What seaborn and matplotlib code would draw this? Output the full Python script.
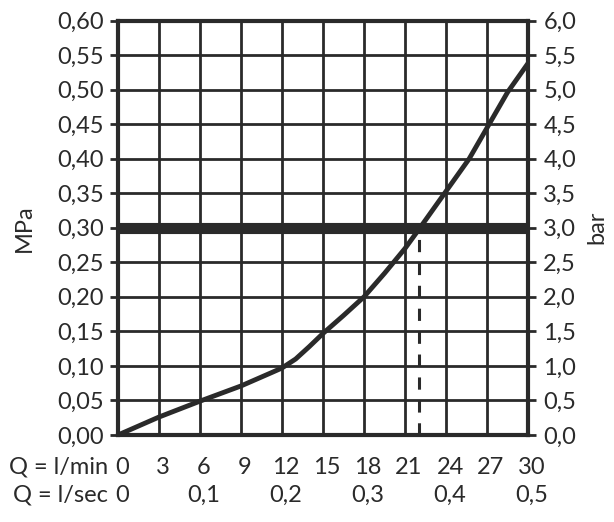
import matplotlib
matplotlib.use("Agg")
import matplotlib.pyplot as plt
import matplotlib.transforms as mtransforms
import seaborn as sns
import pandas as pd

# data
flow_lmin = [0, 3, 6, 9, 11.2, 12, 13, 14, 15, 16.5, 18, 19.5, 21, 22.1,
             23.9, 25.7, 27.1, 28.5, 30]
pressure_mpa = [0, 0.026, 0.049, 0.071, 0.090, 0.097, 0.110, 0.128, 0.147,
                0.173, 0.20, 0.234, 0.27, 0.30, 0.35, 0.40, 0.448, 0.496, 0.538]
ref_pressure = 0.30
ref_flow = 22
lmin_ticks = [0, 3, 6, 9, 12, 15, 18, 21, 24, 27, 30]
lsec_ticks = [0, 0.1, 0.2, 0.3, 0.4, 0.5]
lsec_labels = ["0", "0,1", "0,2", "0,3", "0,4", "0,5"]
mpa_ticks = [i * 0.05 for i in range(13)]
mpa_labels = ["0,00", "0,05", "0,10", "0,15", "0,20", "0,25", "0,30",
              "0,35", "0,40", "0,45", "0,50", "0,55", "0,60"]
bar_labels = ["0,0", "0,5", "1,0", "1,5", "2,0", "2,5", "3,0",
              "3,5", "4,0", "4,5", "5,0", "5,5", "6,0"]

sns.set_theme(style="white")
plt.rcParams['font.family'] = ['Lato', 'DejaVu Sans']
ink = "#2a2a2a"
fs = 17

fig = plt.figure(figsize=(6.14, 5.22), dpi=100)
ax = fig.add_axes([118 / 614, 87 / 522, 410 / 614, 414.5 / 522])

df = pd.DataFrame({"Q": flow_lmin, "P": pressure_mpa})

# grid
for x in lmin_ticks:
    ax.axvline(x, color=ink, lw=2.0, zorder=1)
for y in mpa_ticks:
    ax.axhline(y, color=ink, lw=2.0, zorder=1)

ax.axhline(ref_pressure, color=ink, lw=8, zorder=4, solid_capstyle="butt")
ax.plot([ref_flow, ref_flow], [0, ref_pressure], color=ink, lw=2.2,
        ls=(0, (4, 3.5)), zorder=2)

sns.lineplot(data=df, x="Q", y="P", ax=ax, color=ink, lw=3.5, zorder=3)
ax.lines[-1].set_solid_joinstyle("round")

ax.set_xlim(0, 30)
ax.set_ylim(0, 0.60)
ax.set_xticks(lmin_ticks)
ax.set_xticklabels([])
ax.set_yticks(mpa_ticks)
ax.set_yticklabels(mpa_labels, fontsize=fs, color=ink)
ax.tick_params(axis="both", direction="out", length=6, width=2, color=ink, pad=4)
ax.set_xlabel("")
ax.set_ylabel("MPa", fontsize=fs, color=ink, labelpad=16)
for s in ax.spines.values():
    s.set_color(ink)
    s.set_linewidth(3)

ax2 = ax.twinx()
ax2.set_ylim(0, 6.0)
ax2.set_yticks([i * 0.5 for i in range(13)])
ax2.set_yticklabels(bar_labels, fontsize=fs, color=ink)
ax2.tick_params(axis="y", direction="out", length=6, width=2, color=ink, pad=5)
ax2.set_ylabel("bar", fontsize=fs, color=ink, rotation=90, labelpad=7)
for s in ax2.spines.values():
    s.set_visible(False)

# bottom label rows
trans = mtransforms.blended_transform_factory(ax.transData, ax.transAxes)
shift = mtransforms.ScaledTranslation(4 / 100, 0, fig.dpi_scale_trans)
for v in lmin_ticks:
    ax.text(v, -32 / 414.5, str(v), transform=trans + shift, ha="center",
            va="center", fontsize=fs, color=ink)
for v, lab in zip(lsec_ticks, lsec_labels):
    ax.text(v * 60, -60 / 414.5, lab, transform=trans + shift, ha="center",
            va="center", fontsize=fs, color=ink)

offs = mtransforms.blended_transform_factory(fig.transFigure, ax.transAxes)
ax.text(108 / 614, -32 / 414.5, "Q = l/min", transform=offs, ha="right",
        va="center", fontsize=fs, color=ink)
ax.text(108 / 614, -60 / 414.5, "Q = l/sec", transform=offs, ha="right",
        va="center", fontsize=fs, color=ink)

fig.savefig("out.png", dpi=100)
